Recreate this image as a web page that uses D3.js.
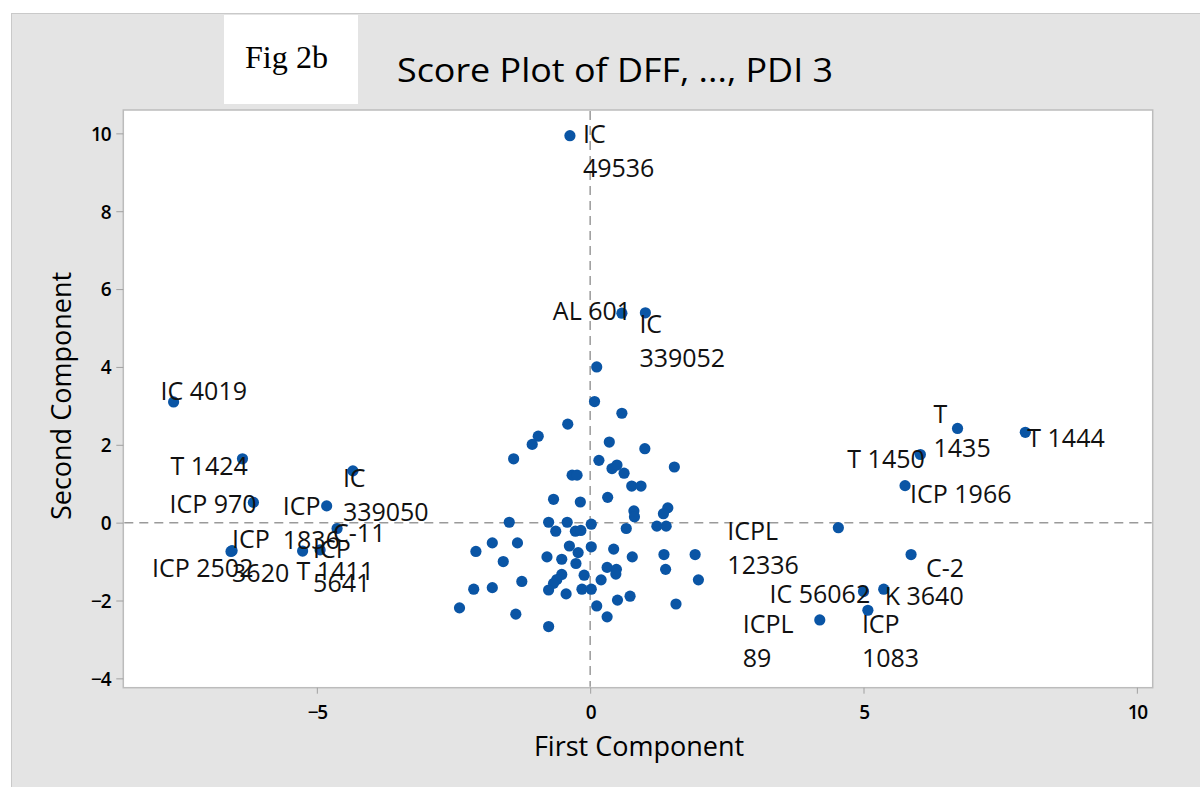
<!DOCTYPE html>
<html>
<head>
<meta charset="utf-8">
<script src="https://cdn.jsdelivr.net/npm/d3@7"></script>
<style>
  html, body { margin: 0; padding: 0; background: #ffffff; }
  svg { display: block; }
</style>
</head>
<body>
<svg id="chart" width="1200" height="787"></svg>
<script>
// ---- Data ----
const chartTitle = "Score Plot of DFF, ..., PDI 3";
const figTag = "Fig 2b";
const xAxisTitle = "First Component";
const yAxisTitle = "Second Component";
const xTicks = [-5, 0, 5, 10];
const yTicks = [-4, -2, 0, 2, 4, 6, 8, 10];

// Labelled genotypes
const labelNames = [
  "IC\n49536", "AL 601", "IC\n339052",
  "IC 4019", "T 1424", "ICP 970", "ICP\n1836", "IC\n339050", "C-11",
  "ICP\n3620", "ICP 2502", "T 1411", "ICP\n5641",
  "T 1444", "T\n1435", "T 1450", "ICP 1966", "ICPL\n12336", "C-2",
  "IC 56062", "K 3640", "ICP\n1083", "ICPL\n89"
];
const labelX = [
  -0.37, 0.58, 1.01,
  -7.62, -6.36, -6.16, -4.82, -4.34, -4.63,
  -6.55, -6.57, -5.26, -4.94,
  7.96, 6.72, 6.04, 5.76, 4.54, 5.87,
  5.00, 5.37, 5.08, 4.20
];
const labelY = [
  9.94, 5.38, 5.39,
  3.10, 1.64, 0.52, 0.43, 1.33, -0.15,
  -0.72, -0.74, -0.73, -0.70,
  2.32, 2.42, 1.75, 0.95, -0.13, -0.82,
  -1.77, -1.71, -2.25, -2.50
];

// Unlabelled genotypes (central cluster)
const clusterX = [
  0.12, 0.08, 0.58, -0.41, -0.95, -1.06, -1.40, 0.35, 1.00, 0.16,
  0.40, 0.49, 0.62, 1.54, -0.33, -0.24, 0.76, 0.93, -0.67, -0.18,
  0.32, 0.80, 0.81, 1.42, 1.34, -1.48, -0.76, -0.63, -0.42, -0.27,
  -0.17, 0.02, 0.66, 1.22, 1.39, -1.79, -1.33, -2.09, -1.59, -0.38,
  -0.22, 0.02, 0.43, -0.79, -0.52, -0.26, 0.77, 1.35, 1.92, 1.38,
  0.31, 0.48, 0.47, -0.11, -0.52, -0.61, 0.20, 1.98, -1.25, -1.79,
  -2.13, -0.67, -0.76, -0.44, -0.15, 0.02, 0.73, 0.50, 1.57, -2.39,
  0.12, -1.36, 0.31, -0.76
];
const clusterY = [
  4.00, 3.11, 2.81, 2.53, 2.22, 2.01, 1.64, 2.07, 1.90, 1.60,
  1.39, 1.48, 1.27, 1.43, 1.22, 1.22, 0.94, 0.94, 0.60, 0.53,
  0.65, 0.30, 0.15, 0.38, 0.23, 0.01, 0.01, -0.22, 0.01, -0.22,
  -0.20, -0.04, -0.15, -0.09, -0.09, -0.52, -0.52, -0.74, -1.00, -0.60,
  -0.77, -0.62, -0.68, -0.88, -0.94, -1.05, -0.88, -0.82, -0.82, -1.20,
  -1.15, -1.20, -1.32, -1.35, -1.33, -1.46, -1.47, -1.47, -1.51, -1.67,
  -1.71, -1.56, -1.73, -1.83, -1.71, -1.71, -1.89, -1.99, -2.09, -2.19,
  -2.14, -2.35, -2.42, -2.67
];

// ---- Layout (label offsets in px from the point) ----
const labelOffsets = [
  [13, 7], [-69, 7], [-6, 20],
  [-13, -2], [-72, 16], [-84, 11], [-44, 9], [-10, 16], [-4, 14],
  [0, -3], [-79, 26], [-6, 29], [-7, 8],
  [2, 15], [-24, -5], [-73, 13], [5, 17], [-111, 12], [15, 22],
  [-94, 11], [1, 16], [-6, 23], [-77, 13]
];

const svg = d3.select("#chart");
const W = 1200, H = 787;
const plot = { left: 123.3, right: 1152.7, top: 110, bottom: 687.7 };

// Background panel
svg.append("rect").attr("x", 0).attr("y", 0).attr("width", W).attr("height", H).attr("fill", "#ffffff");
svg.append("rect").attr("x", 11.5).attr("y", 13.5).attr("width", W).attr("height", H)
  .attr("fill", "#e4e4e4").attr("stroke", "#c9c9c9").attr("stroke-width", 1);

// Fig tag box
svg.append("rect").attr("x", 224).attr("y", 15).attr("width", 134).attr("height", 89).attr("fill", "#ffffff");
svg.append("text").attr("x", 245).attr("y", 68).text(figTag)
  .attr("font-family", "'Liberation Serif', 'Times New Roman', serif").attr("font-size", 31)
  .attr("textLength", 83).attr("lengthAdjust", "spacingAndGlyphs").attr("fill", "#000");

// Title
svg.append("text").attr("x", 397).attr("y", 82).text(chartTitle)
  .attr("font-family", "'Open Sans', 'Noto Sans', sans-serif").attr("font-size", 33).attr("font-weight", 500)
  .attr("textLength", 436).attr("lengthAdjust", "spacingAndGlyphs").attr("fill", "#000");

// Scales
const x = d3.scaleLinear().domain([-8.54, 10.29]).range([plot.left, plot.right]);
const y = d3.scaleLinear().domain([-4.24, 10.60]).range([plot.bottom, plot.top]);

// Plot area
svg.append("rect").attr("x", plot.left).attr("y", plot.top)
  .attr("width", plot.right - plot.left).attr("height", plot.bottom - plot.top)
  .attr("fill", "#ffffff").attr("stroke", "#bcbcbc").attr("stroke-width", 1.5);

// Axes
const tickFont = "'Open Sans', 'Noto Sans', sans-serif";
const xAxis = svg.append("g").attr("transform", `translate(0,${plot.bottom})`)
  .call(d3.axisBottom(x).tickValues(xTicks).tickSize(6).tickPadding(8).tickFormat(d3.format("d")));
const yAxis = svg.append("g").attr("transform", `translate(${plot.left},0)`)
  .call(d3.axisLeft(y).tickValues(yTicks).tickSize(7).tickPadding(6).tickFormat(d3.format("d")));
[xAxis, yAxis].forEach(g => {
  g.select(".domain").remove();
  g.selectAll(".tick line").attr("stroke", "#a0a0a0").attr("stroke-width", 1);
  g.selectAll(".tick text").attr("font-family", tickFont).attr("font-size", 19)
    .attr("font-weight", 600).attr("letter-spacing", -1.2).attr("fill", "#000");
});
xAxis.selectAll(".tick text").attr("dy", "0.9em");
yAxis.selectAll(".tick text").attr("dy", "0.36em");

// Axis titles
svg.append("text").attr("x", 639).attr("y", 756).attr("text-anchor", "middle").text(xAxisTitle)
  .attr("font-family", tickFont).attr("font-size", 27).attr("fill", "#000");
svg.append("text").attr("transform", "translate(71,396) rotate(-90)").attr("text-anchor", "middle").text(yAxisTitle)
  .attr("font-family", tickFont).attr("font-size", 27).attr("fill", "#000");

// Reference lines
const refG = svg.append("g").attr("stroke", "#9a9a9a").attr("stroke-width", 1.5).attr("stroke-dasharray", "9,6");
refG.append("line").attr("x1", x(0)).attr("x2", x(0)).attr("y1", plot.top + 1).attr("y2", plot.bottom - 1);
refG.append("line").attr("x1", plot.left + 1).attr("x2", plot.right - 1).attr("y1", y(0)).attr("y2", y(0));

// Points
const dotColor = "#0a55a5";
const allPts = clusterX.map((v, i) => ({ x: v, y: clusterY[i] }))
  .concat(labelX.map((v, i) => ({ x: v, y: labelY[i] })));
svg.append("g").selectAll("circle").data(allPts).join("circle")
  .attr("cx", d => x(d.x)).attr("cy", d => y(d.y)).attr("r", 5.6).attr("fill", dotColor);

// Labels
const labG = svg.append("g").attr("font-family", tickFont).attr("font-size", 25).attr("fill", "#111");
labelNames.forEach((name, i) => {
  const px = x(labelX[i]) + labelOffsets[i][0];
  const py = y(labelY[i]) + labelOffsets[i][1];
  const t = labG.append("text").attr("x", px).attr("y", py);
  name.split("\n").forEach((line, j) => {
    t.append("tspan").attr("x", px).attr("dy", j === 0 ? 0 : 34).text(line);
  });
});
</script>
</body>
</html>
